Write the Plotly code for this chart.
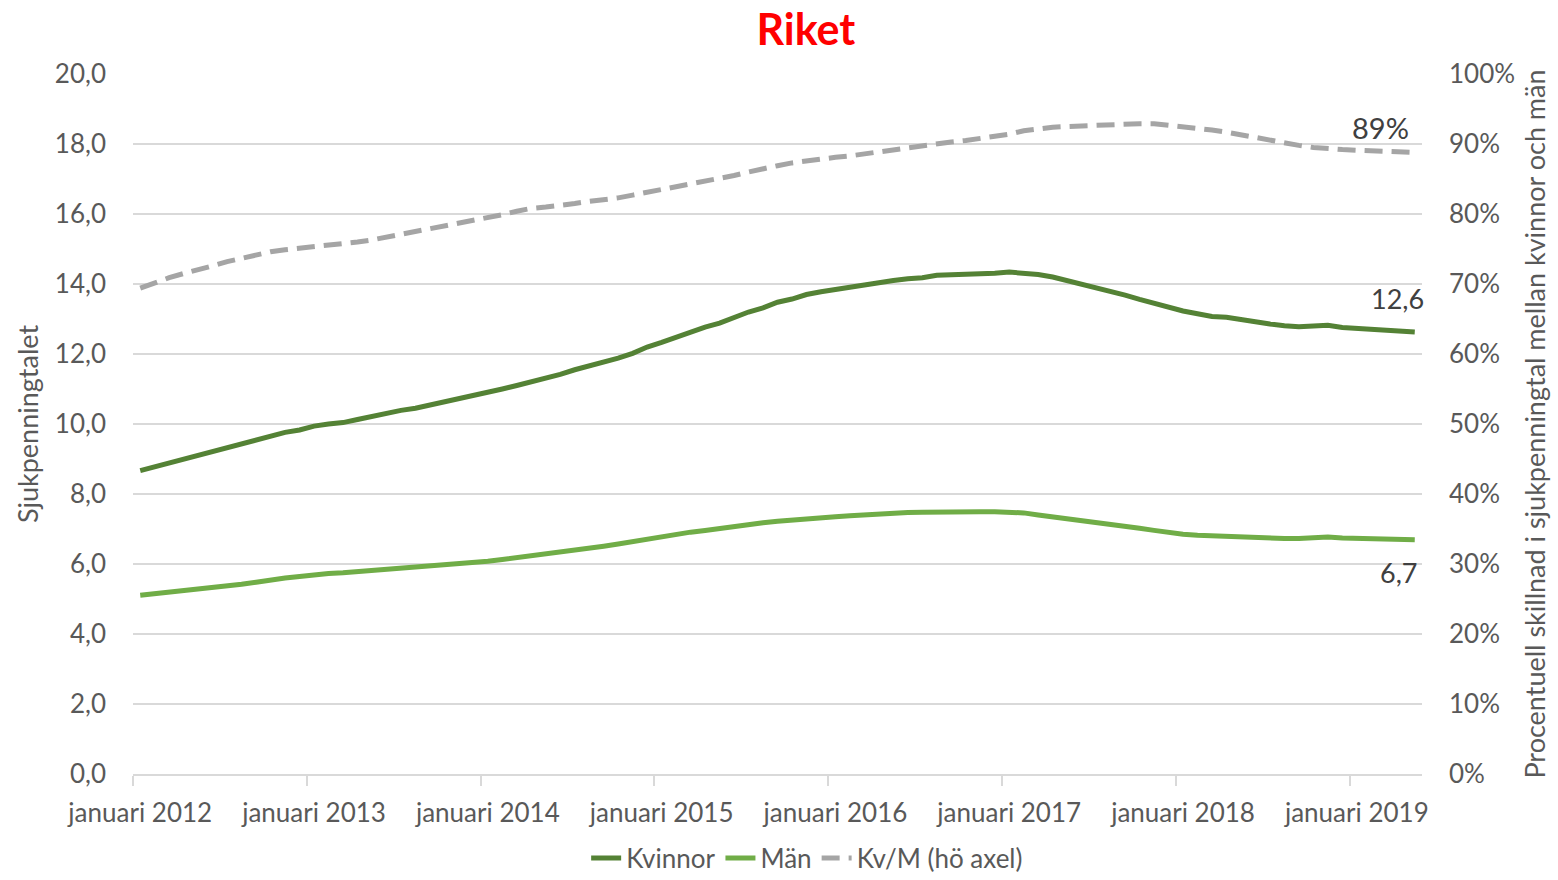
import pandas as pd
import plotly.graph_objects as go

# monthly values, januari 2012 - maj 2019
MONTHS = pd.date_range("2012-01-01", "2019-05-01", freq="MS")

KVINNOR = [
    8.67, 8.78, 8.89, 9.00, 9.10, 9.20, 9.30, 9.42, 9.52, 9.65, 9.76, 9.83,
    9.94, 10.00, 10.04, 10.13, 10.22, 10.30, 10.39, 10.45, 10.54, 10.63, 10.70, 10.80,
    10.90, 11.00, 11.10, 11.20, 11.30, 11.42, 11.55, 11.65, 11.77, 11.88, 12.02, 12.20,
    12.33, 12.48, 12.62, 12.77, 12.88, 13.05, 13.20, 13.32, 13.48, 13.57, 13.70, 13.78,
    13.85, 13.92, 13.98, 14.05, 14.10, 14.15, 14.18, 14.25, 14.26, 14.28, 14.30, 14.31,
    14.34, 14.32, 14.27, 14.20, 14.10, 14.00, 13.90, 13.80, 13.68, 13.56, 13.44, 13.33,
    13.23, 13.15, 13.07, 13.05, 12.98, 12.92, 12.86, 12.81, 12.78, 12.80, 12.82, 12.76,
    12.74, 12.72, 12.69, 12.66, 12.63,
]

MAN = [
    5.11, 5.15, 5.19, 5.23, 5.27, 5.31, 5.36, 5.42, 5.48, 5.55, 5.60, 5.64,
    5.70, 5.73, 5.75, 5.78, 5.82, 5.85, 5.88, 5.90, 5.94, 5.97, 6.00, 6.04,
    6.08, 6.13, 6.18, 6.23, 6.28, 6.34, 6.40, 6.46, 6.51, 6.57, 6.64, 6.72,
    6.78, 6.85, 6.91, 6.96, 7.02, 7.08, 7.13, 7.18, 7.22, 7.26, 7.29, 7.32,
    7.35, 7.38, 7.41, 7.43, 7.45, 7.47, 7.48, 7.49, 7.49, 7.49, 7.49, 7.49,
    7.49, 7.46, 7.40, 7.35, 7.30, 7.25, 7.20, 7.14, 7.08, 7.02, 6.96, 6.90,
    6.85, 6.82, 6.80, 6.79, 6.77, 6.75, 6.74, 6.73, 6.73, 6.75, 6.77, 6.74,
    6.73, 6.72, 6.71, 6.70, 6.69,
]

KV_M = [
    69.4, 70.2, 70.9, 71.5, 72.0, 72.6, 73.2, 73.7, 74.2, 74.6, 74.9, 75.1,
    75.3, 75.5, 75.7, 76.0, 76.3, 76.7, 77.1, 77.5, 77.8, 78.2, 78.6, 79.0,
    79.4, 79.9, 80.4, 80.8, 81.0, 81.2, 81.5, 81.8, 82.0, 82.3, 82.7, 83.1,
    83.4, 83.8, 84.2, 84.6, 85.0, 85.5, 86.0, 86.5, 86.9, 87.3, 87.6, 87.9,
    88.1, 88.3, 88.6, 88.9, 89.2, 89.4, 89.7, 90.0, 90.3, 90.5, 90.8, 91.0,
    91.4, 91.9, 92.2, 92.4, 92.5, 92.6, 92.7, 92.7, 92.8, 92.9, 92.9, 92.7,
    92.4, 92.2, 92.0, 91.7, 91.3, 91.0, 90.6, 90.2, 89.8, 89.5, 89.3, 89.2,
    89.1, 89.0, 88.9, 88.9, 88.8,
]

YEAR_TICKS = ["januari 2012", "januari 2013", "januari 2014", "januari 2015",
              "januari 2016", "januari 2017", "januari 2018", "januari 2019"]

DARK_GREEN = "#548235"
LIGHT_GREEN = "#70ad47"
GREY_LINE = "#a5a5a5"
GRID = "#d9d9d9"
TEXT = "#595959"
FONT = "Lato, Open Sans, sans-serif"

x = list(range(len(MONTHS)))
hover = [f"{d.year}-{d.month:02d}" for d in MONTHS]
jan_idx = [i for i, d in enumerate(MONTHS) if d.month == 1]
bounds = [i - 0.5 for i in jan_idx]

fig = go.Figure()
fig.add_trace(go.Scatter(x=x, y=KVINNOR, name="Kvinnor", mode="lines", text=hover,
                         line=dict(color=DARK_GREEN, width=5)))
fig.add_trace(go.Scatter(x=x, y=MAN, name="Män", mode="lines", text=hover,
                         line=dict(color=LIGHT_GREEN, width=5)))
fig.add_trace(go.Scatter(x=x, y=KV_M, name="Kv/M (hö axel)", mode="lines", text=hover, yaxis="y2",
                         line=dict(color=GREY_LINE, width=5, dash="18px,9px")))

# end labels
last = x[-1]
fig.add_annotation(x=last, y=KVINNOR[-1], text=f"{KVINNOR[-1]:.1f}".replace(".", ","),
                   showarrow=False, xanchor="right", yanchor="middle", xshift=11, yshift=33,
                   font=dict(family=FONT, size=27, color="#404040"))
fig.add_annotation(x=last, y=MAN[-1], text=f"{MAN[-1]:.1f}".replace(".", ","),
                   showarrow=False, xanchor="right", yanchor="middle", xshift=4, yshift=-33,
                   font=dict(family=FONT, size=27, color="#404040"))
fig.add_annotation(x=last, y=KV_M[-1], yref="y2", text=f"{round(KV_M[-1])}%",
                   showarrow=False, xanchor="right", yanchor="middle", xshift=-4, yshift=25,
                   font=dict(family=FONT, size=29, color="#404040"))

fig.update_layout(
    width=1558, height=880,
    paper_bgcolor="white", plot_bgcolor="white",
    separators=", ",
    font=dict(family=FONT, color=TEXT, size=26),
    margin=dict(l=133, r=136, t=74, b=106),
    title=dict(text="<b>Riket</b>", x=0.522, xref="paper", xanchor="center",
               y=0.966, yanchor="middle", font=dict(family=FONT, size=43, color="#ff0000")),
    showlegend=True,
    legend=dict(orientation="h", x=0.523, xanchor="center", xref="paper",
                y=0.025, yref="container", yanchor="middle",
                font=dict(family=FONT, size=26, color=TEXT), traceorder="normal"),
    hovermode="x unified",
    xaxis=dict(range=[-0.5, len(x) - 0.5], tickvals=jan_idx, ticktext=YEAR_TICKS,
               ticks="", showgrid=False, zeroline=False, automargin=False,
               showline=True, linecolor=GRID, linewidth=1.5,
               tickfont=dict(family=FONT, size=26, color=TEXT), ticklabelstandoff=15,
               minor=dict(tickvals=bounds, ticks="outside", ticklen=10, tickcolor=GRID,
                          tickwidth=1.5, showgrid=False)),
    yaxis=dict(range=[0, 20], dtick=2, tickformat=".1f", showgrid=True, gridcolor=GRID,
               gridwidth=1.5, zeroline=False, showline=False, automargin=False,
               tickfont=dict(family=FONT, size=26, color=TEXT), ticklabelstandoff=26,
               title=dict(text="Sjukpenningtalet", standoff=8,
                          font=dict(family=FONT, size=27, color=TEXT))),
    yaxis2=dict(range=[0, 100], dtick=10, ticksuffix="%", overlaying="y", side="right",
                showgrid=False, zeroline=False, showline=False, automargin=False,
                tickfont=dict(family=FONT, size=26, color=TEXT), ticklabelstandoff=26,
                title=dict(text="Procentuell skillnad i sjukpenningtal mellan kvinnor och män",
                           standoff=12, font=dict(family=FONT, size=27, color=TEXT))),
)

fig.write_html("out.html", config={"displayModeBar": False},
               post_script="document.body.style.margin='0px';")
